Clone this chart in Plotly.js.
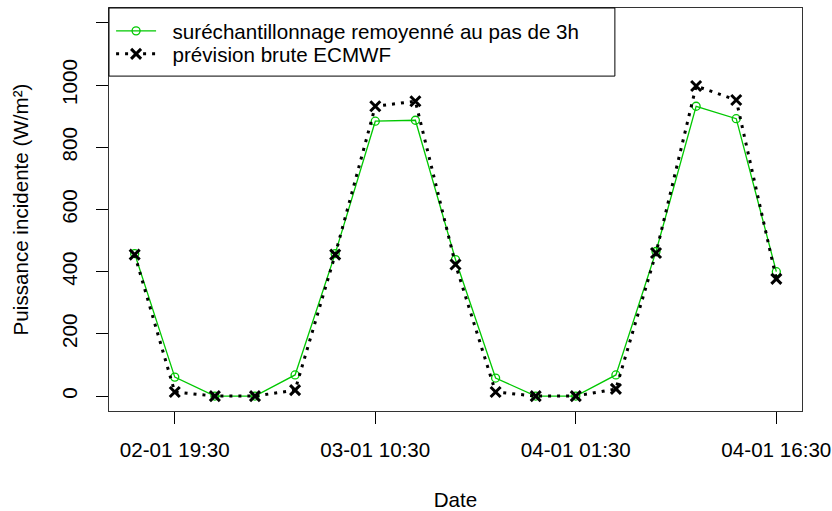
<!DOCTYPE html>
<html><head><meta charset="utf-8">
<script src="https://cdn.plot.ly/plotly-3.0.1.min.js"></script>
<style>html,body{margin:0;padding:0;background:#fff}#chart{width:832px;height:511px}</style>
</head><body><div id="chart"></div>
<script>
const times = ['2019-01-02 16:30','2019-01-02 19:30','2019-01-02 22:30','2019-01-03 01:30','2019-01-03 04:30','2019-01-03 07:30','2019-01-03 10:30','2019-01-03 13:30','2019-01-03 16:30','2019-01-03 19:30','2019-01-03 22:30','2019-01-04 01:30','2019-01-04 04:30','2019-01-04 07:30','2019-01-04 10:30','2019-01-04 13:30','2019-01-04 16:30'];
const resampled = [458, 61, 0, 0, 68, 458, 884, 887, 439, 58, 0, 0, 68, 465, 932, 892, 400];
const ecmwf = [455, 13, 0, 0, 19, 455, 932, 948, 423, 13, 0, 0, 23, 460, 997, 952, 377];
const tickVals = ['2019-01-02 19:30','2019-01-03 10:30','2019-01-04 01:30','2019-01-04 16:30'];
const yTicks = [0, 200, 400, 600, 800, 1000, 1200];
const yTickText = ['0','200','400','600','800','1000',''];
const seriesNames = ['suréchantillonnage remoyenné au pas de 3h', 'prévision brute ECMWF'];

const font = {family: 'Liberation Sans, Arial, sans-serif', size: 20.6, color: '#000'};
const legendCommon = {xanchor: 'left', yanchor: 'middle', bgcolor: 'rgba(0,0,0,0)', borderwidth: 0,
                      font: font, itemwidth: 40};
const pad = '\u00a0\u00a0';
const traces = [
  {x: times, y: resampled, name: pad + seriesNames[0], type: 'scatter', mode: 'lines+markers', legend: 'legend',
   line: {color: 'rgb(0,200,0)', width: 1.3},
   marker: {symbol: 'circle-open', size: 8, color: 'rgb(0,200,0)', line: {width: 1.3, color: 'rgb(0,200,0)'}}},
  {x: times, y: ecmwf, name: pad + seriesNames[1], type: 'scatter', mode: 'lines+markers', legend: 'legend2',
   line: {color: '#000', width: 3, dash: '3px,6px'},
   marker: {symbol: 'x-thin-open', size: 10, color: '#000', line: {width: 3, color: '#000'}}}
];
const layout = {
  width: 832, height: 511,
  margin: {l: 109, r: 30, t: 8, b: 100},
  paper_bgcolor: '#fff', plot_bgcolor: '#fff',
  font: font,
  showlegend: true,
  legend: Object.assign({x: 0.003, y: 0.943}, legendCommon),
  legend2: Object.assign({x: 0.003, y: 0.886}, legendCommon),
  xaxis: {type: 'date', range: ['2019-01-02 14:34:48', '2019-01-04 18:25:12'],
          tickmode: 'array', tickvals: tickVals, tickformat: '%d-%m %H:%M',
          ticks: 'outside', ticklen: 12, tickcolor: '#000', tickwidth: 1,
          showline: true, linecolor: '#333', linewidth: 1, mirror: true,
          showgrid: false, zeroline: false, ticklabelstandoff: 8,
          title: {text: 'Date', font: font, standoff: 34}},
  yaxis: {range: [-48, 1248], tickmode: 'array', tickvals: yTicks, ticktext: yTickText,
          ticks: 'outside', ticklen: 12, tickcolor: '#000', tickwidth: 1, tickangle: -90,
          showline: true, linecolor: '#333', linewidth: 1, mirror: true,
          showgrid: false, zeroline: false, ticklabelstandoff: 11,
          title: {text: 'Puissance incidente (W/m²)', font: font, standoff: 23}},
  shapes: [{type: 'rect', xref: 'paper', yref: 'paper', x0: 0, x1: 0.730, y0: 0.831, y1: 1,
            line: {color: '#000', width: 1}, fillcolor: 'rgba(0,0,0,0)'}]
};
Plotly.newPlot('chart', traces, layout, {displayModeBar: false, staticPlot: true});
</script></body></html>
